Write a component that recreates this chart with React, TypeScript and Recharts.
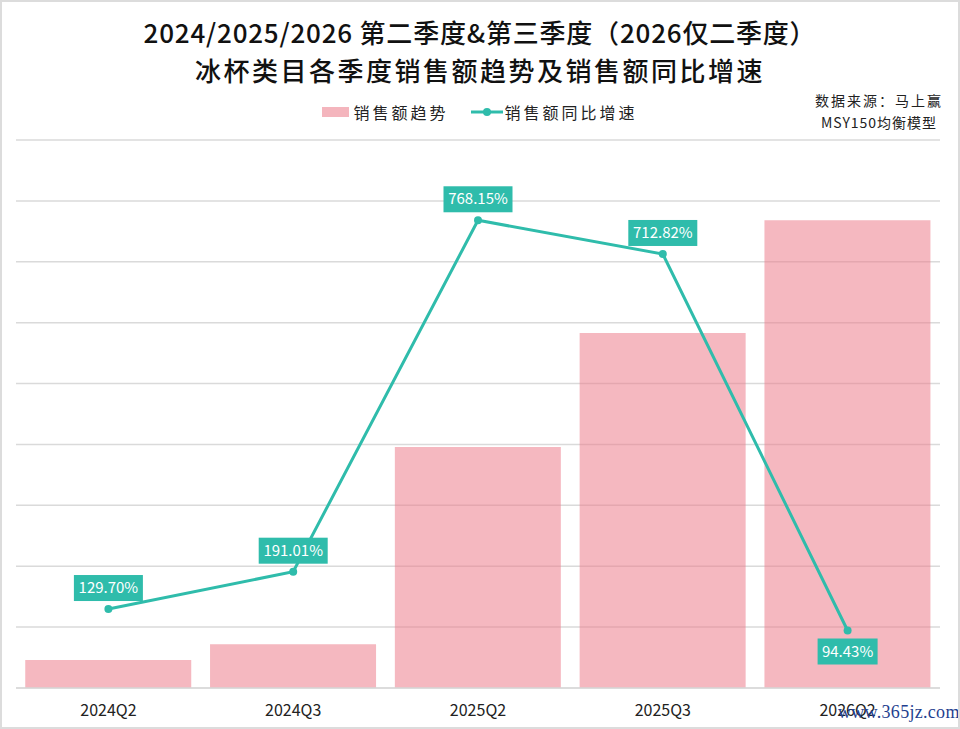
import { ComposedChart, Bar, Line, XAxis, YAxis, CartesianGrid } from "recharts";

const quarters = ["2024Q2", "2024Q3", "2025Q2", "2025Q3", "2026Q2"];
// sales trend (relative units)
const sales = [0.46, 0.72, 3.96, 5.83, 7.68];
// year-on-year growth, %
const growth = [129.7, 191.01, 768.15, 712.82, 94.43];
const rateTicks = [0, 100, 200, 300, 400, 500, 600, 700, 800, 900];
const salesTicks = [0, 1, 2, 3, 4, 5, 6, 7, 8, 9];

const data = quarters.map((q, i) => ({ quarter: q, sales: sales[i], growth: growth[i] }));

const TEAL = "#2fbcab";
const FONT = '"Noto Sans CJK SC", "Noto Sans", sans-serif';

const GrowthLabel = (props: any) => {
  const { x, y, value, index } = props;
  const text = `${Number(value).toFixed(2)}%`;
  const w = text.length * 9 + 6;
  const h = 26;
  const below = index === growth.length - 1;
  const top = below ? y + 8 : y - 8 - h;
  return (
    <g>
      <rect x={x - w / 2} y={top} width={w} height={h} fill={TEAL} />
      <text
        x={x}
        y={top + h / 2 + 1}
        textAnchor="middle"
        dominantBaseline="middle"
        fill="#fff"
        fontSize={15}
        fontFamily={FONT}
      >
        {text}
      </text>
    </g>
  );
};

const ChartLegend = () => (
  <div
    style={{
      position: "absolute",
      left: -2,
      top: 98,
      width: 960,
      display: "flex",
      justifyContent: "center",
      alignItems: "center",
      fontFamily: FONT,
      fontSize: 16,
      letterSpacing: 3,
      color: "#222",
    }}
  >
    <span style={{ display: "inline-block", width: 27, height: 10, background: "#f4b5bd", marginRight: 4 }} />
    <span>销售额趋势</span>
    <svg width={32} height={10} style={{ marginLeft: 22, marginRight: 2 }}>
      <line x1={0} y1={5} x2={32} y2={5} stroke={TEAL} strokeWidth={3} />
      <circle cx={16} cy={5} r={4} fill={TEAL} />
    </svg>
    <span>销售额同比增速</span>
  </div>
);

export default function App() {
  return (
    <div
      style={{
        position: "fixed",
        left: 0,
        top: 0,
        width: 960,
        height: 729,
        background: "#fff",
        boxSizing: "border-box",
        border: "2px solid #dcdcdc",
        overflow: "hidden",
      }}
    >
      <div style={{ position: "absolute", left: -2, top: -2 }}>
        <ComposedChart
          width={960}
          height={729}
          data={data}
          margin={{ top: 140, right: 20, left: 16, bottom: 0 }}
          barCategoryGap="5%"
        >
          <CartesianGrid vertical={false} yAxisId="rate" stroke="#dadada" strokeWidth={1.5} />
          <XAxis
            dataKey="quarter"
            height={41}
            axisLine={{ stroke: "#dadada", strokeWidth: 1.5 }}
            tickLine={false}
            tick={{ fontSize: 16, fill: "#222", fontFamily: FONT }}
            tickMargin={11}
            interval={0}
          />
          <YAxis yAxisId="sales" hide domain={[0, 9]} ticks={salesTicks} />
          <YAxis yAxisId="rate" orientation="right" hide domain={[0, 900]} ticks={rateTicks} />
          <Bar
            yAxisId="sales"
            dataKey="sales"
            name="销售额趋势"
            fill="#ec7d8c"
            fillOpacity={0.55}
            isAnimationActive={false}
          />
          <Line
            yAxisId="rate"
            dataKey="growth"
            name="销售额同比增速"
            stroke={TEAL}
            strokeWidth={3}
            dot={{ r: 4, fill: TEAL, stroke: TEAL, strokeWidth: 0 }}
            label={<GrowthLabel />}
            isAnimationActive={false}
          />
        </ComposedChart>
      </div>

      <div
        style={{
          position: "absolute",
          left: -2,
          top: 11,
          width: 960,
          textAlign: "center",
          fontFamily: FONT,
          fontSize: 26,
          fontWeight: 500,
          color: "#111",
          lineHeight: "38px",
        }}
      >
        <div style={{ letterSpacing: 0.8 }}>2024/2025/2026 第二季度&amp;第三季度（2026仅二季度）</div>
        <div style={{ letterSpacing: 2.5 }}>冰杯类目各季度销售额趋势及销售额同比增速</div>
      </div>

      <ChartLegend />

      <div
        style={{
          position: "absolute",
          left: 797,
          top: 87,
          width: 160,
          textAlign: "center",
          fontFamily: FONT,
          fontSize: 14,
          letterSpacing: 2,
          color: "#222",
          lineHeight: "22px",
        }}
      >
        <div>数据来源：马上赢</div>
        <div style={{ letterSpacing: 1 }}>MSY150均衡模型</div>
      </div>

      <div
        style={{
          position: "absolute",
          left: 836,
          top: 700,
          fontFamily: '"Liberation Serif", serif',
          fontSize: 18,
          color: "#1f3f8f",
          letterSpacing: 0.3,
        }}
      >
        www.365jz.com
      </div>
    </div>
  );
}
